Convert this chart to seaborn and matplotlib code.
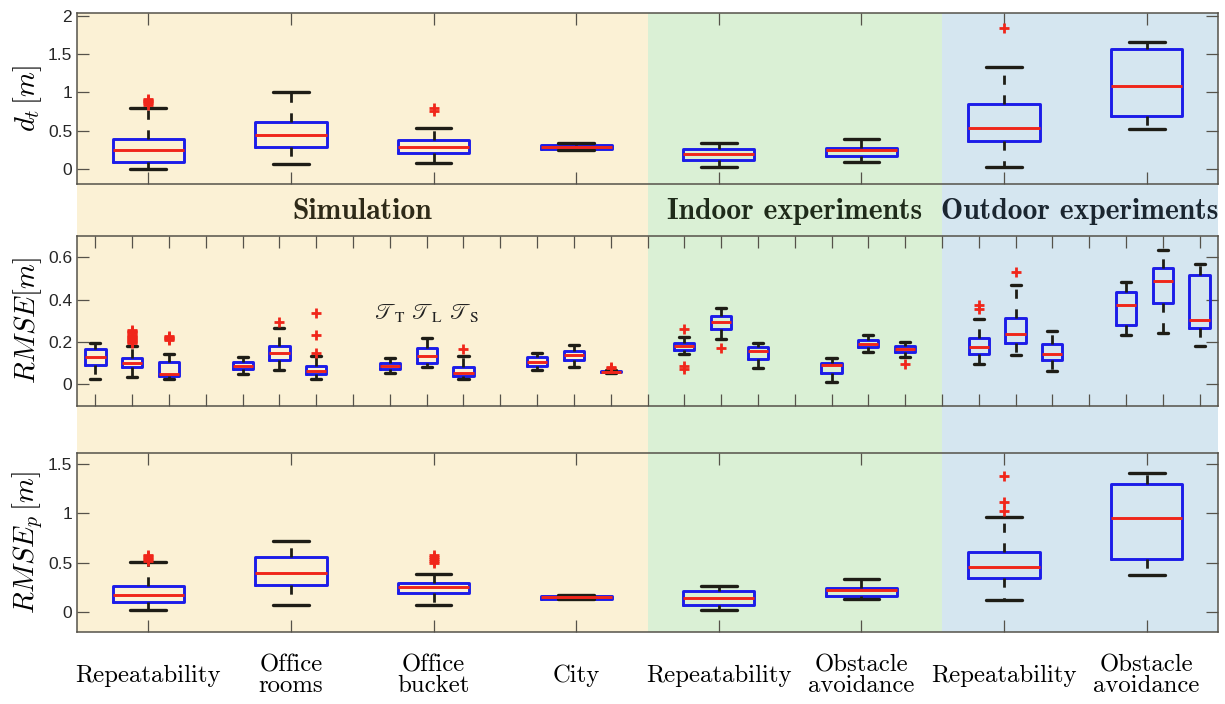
import numpy as np
import pandas as pd
import matplotlib
matplotlib.use("Agg")
import matplotlib.pyplot as plt
import seaborn as sns
from matplotlib.patches import Rectangle

# ---------------- data ----------------
groups = ["Repeatability", "Office\nrooms", "Office\nbucket", "City",
          "Repeatability", "Obstacle\navoidance", "Repeatability", "Obstacle\navoidance"]
sections = ["Simulation", "Indoor experiments", "Outdoor experiments"]
traj = [r"$\mathscr{T}_{\mathrm{T}}$", r"$\mathscr{T}_{\mathrm{L}}$", r"$\mathscr{T}_{\mathrm{S}}$"]

# d_t [m] : one box per group
dt_lo  = [0.000, 0.066, 0.075, 0.242, 0.026, 0.093, 0.026, 0.516]
dt_q1  = [0.090, 0.291, 0.202, 0.260, 0.115, 0.168, 0.366, 0.688]
dt_med = [0.247, 0.437, 0.282, 0.287, 0.189, 0.242, 0.529, 1.085]
dt_q3  = [0.384, 0.618, 0.370, 0.313, 0.255, 0.278, 0.847, 1.570]
dt_hi  = [0.790, 1.000, 0.529, 0.335, 0.335, 0.393, 1.332, 1.657]
dt_out = [[0.84, 0.855, 0.87, 0.885, 0.90, 0.915], [], [0.75, 0.79], [], [], [], [1.839], []]

# RMSE [m] : three boxes (T, L, S) per group
rm_lo  = [0.024, 0.035, 0.025,  0.049, 0.066, 0.025,  0.055, 0.080, 0.025,  0.069, 0.080, 0.055,
          0.142, 0.214, 0.077,  0.009, 0.153, 0.128,  0.095, 0.136, 0.061,  0.235, 0.241, 0.181]
rm_q1  = [0.091, 0.082, 0.040,  0.074, 0.117, 0.050,  0.071, 0.099, 0.039,  0.088, 0.117, 0.057,
          0.164, 0.263, 0.120,  0.055, 0.174, 0.153,  0.145, 0.195, 0.115,  0.278, 0.386, 0.266]
rm_med = [0.129, 0.101, 0.050,  0.088, 0.147, 0.065,  0.085, 0.132, 0.055,  0.107, 0.139, 0.060,
          0.183, 0.295, 0.155,  0.090, 0.192, 0.169,  0.176, 0.236, 0.143,  0.375, 0.488, 0.303]
rm_q3  = [0.167, 0.126, 0.105,  0.103, 0.181, 0.087,  0.099, 0.172, 0.080,  0.128, 0.159, 0.063,
          0.195, 0.321, 0.178,  0.099, 0.211, 0.181,  0.219, 0.311, 0.191,  0.438, 0.547, 0.517]
rm_hi  = [0.197, 0.180, 0.145,  0.128, 0.266, 0.134,  0.122, 0.219, 0.134,  0.147, 0.186, 0.066,
          0.221, 0.359, 0.195,  0.124, 0.235, 0.199,  0.307, 0.468, 0.252,  0.481, 0.635, 0.567]
rm_out_hi = [[], [0.195, 0.20, 0.205, 0.21, 0.215, 0.22, 0.225, 0.23, 0.235, 0.24, 0.245, 0.25, 0.255],
             [0.21, 0.215, 0.22, 0.225, 0.23],
             [], [0.295], [0.15, 0.235, 0.337],
             [], [], [0.167],
             [], [], [0.075, 0.08],
             [0.259], [], [],
             [], [], [],
             [0.355, 0.375], [0.531], [],
             [], [], []]
rm_out_lo = [[], [], [],  [], [], [],  [], [], [],  [], [], [],
             [0.07, 0.085], [0.17], [],  [], [], [0.095],  [], [], [],  [], [], []]

# RMSE_p [m] : one box per group
rp_lo  = [0.020, 0.077, 0.077, 0.131, 0.020, 0.137, 0.121, 0.380]
rp_q1  = [0.104, 0.273, 0.192, 0.137, 0.074, 0.168, 0.346, 0.541]
rp_med = [0.175, 0.397, 0.259, 0.155, 0.141, 0.222, 0.461, 0.953]
rp_q3  = [0.268, 0.556, 0.293, 0.168, 0.212, 0.245, 0.609, 1.296]
rp_hi  = [0.505, 0.723, 0.387, 0.178, 0.263, 0.333, 0.960, 1.410]
rp_out = [[0.52, 0.535, 0.55, 0.565, 0.58], [], [0.50, 0.52, 0.54, 0.56, 0.58], [], [], [],
          [1.02, 1.117, 1.377], []]


def expand(lo, q1, med, q3, hi, out_lo, out_hi):
    """Sample whose quartiles / whiskers / outliers equal the given summary."""
    a, b = len(out_lo), len(out_hi)
    m = max(4, a + 1, b + 1)
    return (list(out_lo) + [lo] + [q1] * (2 * m - 1 - a) + [med]
            + [q3] * (2 * m - 1 - b) + [hi] + list(out_hi))


def frame(names, lo, q1, med, q3, hi, out_lo, out_hi):
    rows = []
    for i, n in enumerate(names):
        for v in expand(lo[i], q1[i], med[i], q3[i], hi[i], out_lo[i], out_hi[i]):
            rows.append((n, v))
    return pd.DataFrame(rows, columns=["slot", "value"])


grp_ids = [f"g{i}" for i in range(len(groups))]
df_dt = frame(grp_ids, dt_lo, dt_q1, dt_med, dt_q3, dt_hi, [[]] * 8, dt_out)
df_rp = frame(grp_ids, rp_lo, rp_q1, rp_med, rp_q3, rp_hi, [[]] * 8, rp_out)

mid_ids = [f"g{g}{t}" for g in range(len(groups)) for t in "TLS"]
df_rm = frame(mid_ids, rm_lo, rm_q1, rm_med, rm_q3, rm_hi, rm_out_lo, rm_out_hi)
mid_order = []
for g in range(len(groups)):
    mid_order += [f"g{g}{t}" for t in "TLS"]
    if g < len(groups) - 1:
        mid_order.append(f"blank{g}")

# ---------------- style ----------------
sns.set_style("ticks")
plt.rcParams["font.family"] = ["Liberation Sans", "DejaVu Sans"]
plt.rcParams["mathtext.fontset"] = "cm"

BLUE = "#1c1ce8"
RED = "#f0261a"
BLACK = "#1e1d16"
SPINE = "#55524a"
BG = ["#FBF1D5", "#DAF0D5", "#D5E6F0"]
HEAD_COL = ["#2e2a18", "#1f2b1a", "#1b2630"]

fig = plt.figure(figsize=(12.25, 7.04), dpi=100)
L, W = 77 / 1225, 1141 / 1225
ax_top = fig.add_axes([L, 1 - 184 / 704, W, 171 / 704])
ax_mid = fig.add_axes([L, 1 - 405.5 / 704, W, 169.5 / 704])
ax_bot = fig.add_axes([L, 1 - 632.3 / 704, W, 179 / 704])


def draw(ax, df, order, width):
    sns.boxplot(data=df, x="slot", y="value", order=order, ax=ax, width=width,
                fill=False, whis=1.5, linewidth=2,
                boxprops=dict(color=BLUE, linewidth=2.1),
                medianprops=dict(color=RED, linewidth=2.1),
                whiskerprops=dict(color=BLACK, linewidth=2.0, linestyle=(0, (3.3, 3.8))),
                capprops=dict(color=BLACK, linewidth=2.4),
                flierprops=dict(marker="+", markeredgecolor=RED, markersize=7,
                                markeredgewidth=2.0))
    ax.set_facecolor("none")
    ax.set_xlabel("")
    ax.set_ylabel("")
    for s in ax.spines.values():
        s.set_visible(True)
        s.set_color(SPINE)
        s.set_linewidth(1.1)
    ax.tick_params(direction="in", length=8.6, width=0.9, color=SPINE,
                   top=True, right=True, labelsize=12.5, labelcolor="#262626", pad=3.5)


draw(ax_top, df_dt, grp_ids, 0.5)
draw(ax_mid, df_rm, mid_order, 0.55)
draw(ax_bot, df_rp, grp_ids, 0.5)

ax_top.set_ylim(-0.2, 2.04)
ax_top.set_yticks([0, 0.5, 1, 1.5, 2], ["0", "0.5", "1", "1.5", "2"])
ax_mid.set_ylim(-0.1, 0.7)
ax_mid.set_yticks([0, 0.2, 0.4, 0.6], ["0", "0.2", "0.4", "0.6"])
ax_bot.set_ylim(-0.2, 1.605)
ax_bot.set_yticks([0, 0.5, 1, 1.5], ["0", "0.5", "1", "1.5"])

ax_top.set_xticks(range(len(grp_ids)), [""] * len(grp_ids))
ax_mid.set_xticks(range(len(mid_order)), [""] * len(mid_order))
ax_bot.set_xticks(range(len(grp_ids)), groups)
ax_bot.tick_params(axis="x", pad=31.5)
for lab in ax_bot.get_xticklabels():
    lab.set_fontfamily("cmr10")
    lab.set_fontsize(17.8)
    lab.set_verticalalignment("center")
    lab.set_linespacing(0.92)
    lab.set_color("black")

ylabels = [r"$d_t\,[m]$", r"$RMSE[m]$", r"$RMSE_p\,[m]$"]
for ax, yl in zip([ax_top, ax_mid, ax_bot], ylabels):
    ax.set_ylabel(yl, fontsize=20.5, color="black")
    ax.yaxis.set_label_coords(-0.043, 0.5)
    ax.yaxis.label.set_verticalalignment("center")

# trajectory annotations above the "Office bucket" boxes
g_bucket = 2
for k, t in enumerate(traj):
    xi = mid_order.index(f"g{g_bucket}{'TLS'[k]}")
    ax_mid.text(xi, 0.335, t, ha="center", va="center", fontsize=16,
                math_fontfamily="stix", color="#222222")

# ---------------- section backgrounds ----------------
n_mid = len(mid_order)
bounds = [0.0]
for g in (3, 5):
    bounds.append((mid_order.index(f"blank{g}") + 0.5) / n_mid)
bounds.append(1.0)
y0 = 1 - 632.3 / 704
y1 = 1 - 13 / 704
for i in range(3):
    x0 = L + bounds[i] * W
    x1 = L + bounds[i + 1] * W
    fig.add_artist(Rectangle((x0, y0), x1 - x0, y1 - y0, transform=fig.transFigure,
                             facecolor=BG[i], edgecolor="none", zorder=-1))
    fig.text((x0 + x1) / 2, 1 - 219 / 704, sections[i], ha="center", va="baseline",
             fontfamily="cmb10", fontsize=21.3, color=HEAD_COL[i])

fig.savefig("out.png", dpi=100)
